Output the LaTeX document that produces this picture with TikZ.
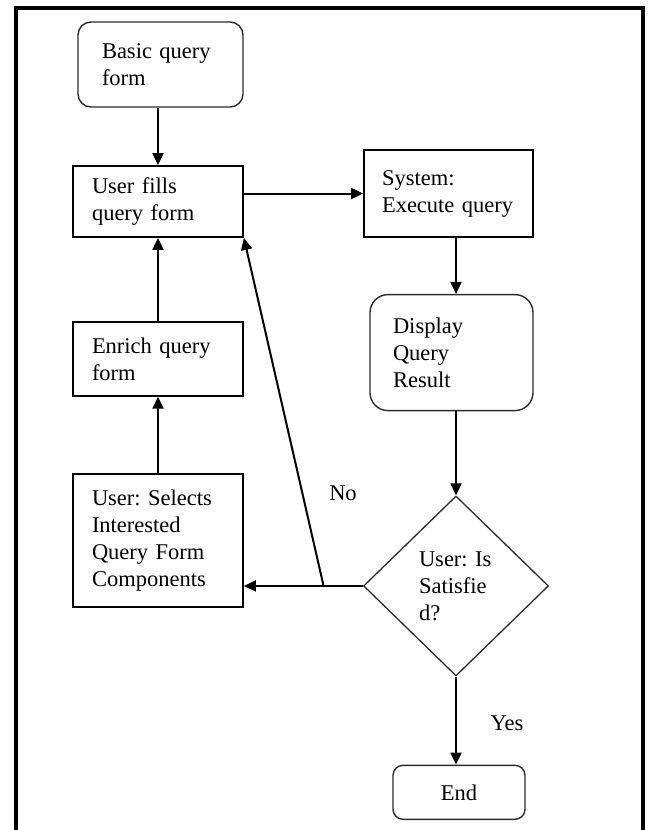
\documentclass[tikz,border=0pt]{standalone}
\usepackage{fontspec}
\setmainfont{Liberation Serif}
\usepackage{xcolor}
\usepackage{tikz}
\usetikzlibrary{
  arrows.meta,
  shapes.geometric,
  positioning,
  calc
}
\definecolor{qfInk}{HTML}{000000}
\definecolor{qfSoft}{HTML}{2B2B2B}
\tikzset{
  qfnode/.style={
    draw, font=\fontsize{22.5}{27}\selectfont, align=left, inner ysep=0pt,
    text width=132pt, inner xsep=19pt
  },
  qfbox/.style={qfnode, draw=qfInk, line width=1.8pt},
  qfround/.style={qfnode, draw=qfSoft, line width=1.4pt, rounded corners=13pt},
  qfdecision/.style={
    draw=qfSoft, line width=1.3pt, diamond, aspect=1, inner sep=0pt,
    minimum width=185pt, minimum height=180pt, text width=74pt,
    font=\fontsize{22.5}{27}\selectfont, align=left
  },
  flow/.style={-{Triangle[length=12pt, width=11pt]}, line width=2pt, qfInk},
  tag/.style={font=\fontsize{22.5}{27}\selectfont, inner sep=0pt},
  frame/.style={line width=3.5pt, qfInk}
}
\begin{document}
\begin{tikzpicture}[x=1pt, y=-1pt]
  \useasboundingbox (0,0) rectangle (648,830);
  \draw[frame] (16,830) -- (16,8) -- (643,8) -- (643,830);
  \node[qfround, text width=117pt, inner xsep=24pt, minimum height=85pt] (basic) at (160.5,64.5) {Basic~query\\form};
  \node[qfbox, minimum height=71pt] (fills) at (158,201.5) {User~fills\\query~form};
  \node[qfbox, minimum height=74pt, below=83pt of fills] (enrich) {Enrich~query\\form};
  \node[qfbox, minimum height=133pt, below=76pt of enrich] (selects) {User:~Selects\\Interested\\Query~Form\\Components};
  \node[qfbox, text width=133pt, inner xsep=18pt, minimum height=87pt] (system) at (448.5,193.5) {System:\\Execute~query};
  \node[qfround, rounded corners=18pt, text width=117pt, inner xsep=23pt, minimum height=116pt, below=56pt of system, xshift=3pt] (display) {Display\\Query\\Result};
  \node[qfdecision, below=84pt of display, xshift=4.5pt] (dec) {User:~Is\\Satisfie\\d?};
  \node[qfround, rounded corners=10pt, text width=100pt, inner xsep=16pt, minimum height=54pt, align=center, below=88pt of dec, xshift=3pt] (end) {End};
  \coordinate (jn) at ($(dec.west)!0.33!(dec.west -| selects.east)$);
  \node[tag] (no) at (343,493) {No};
  \node[tag] (yes) at (507,723) {Yes};
  \draw[flow] (basic.south -| fills.north) -- (fills.north);
  \draw[flow] (enrich.north) -- (fills.south);
  \draw[flow] (selects.north) -- (enrich.south);
  \draw[flow] (fills.east |- system.west) -- (system.west);
  \draw[flow] (system.south -| dec.north) -- (display.north -| dec.north);
  \draw[flow] (display.south -| dec.north) -- (dec.north);
  \draw[flow] (dec.west) -- (dec.west -| selects.east);
  \draw[flow] (jn) -- (fills.south east);
  \draw[flow] (dec.south) -- (dec.south |- end.north);
\end{tikzpicture}
\end{document}
